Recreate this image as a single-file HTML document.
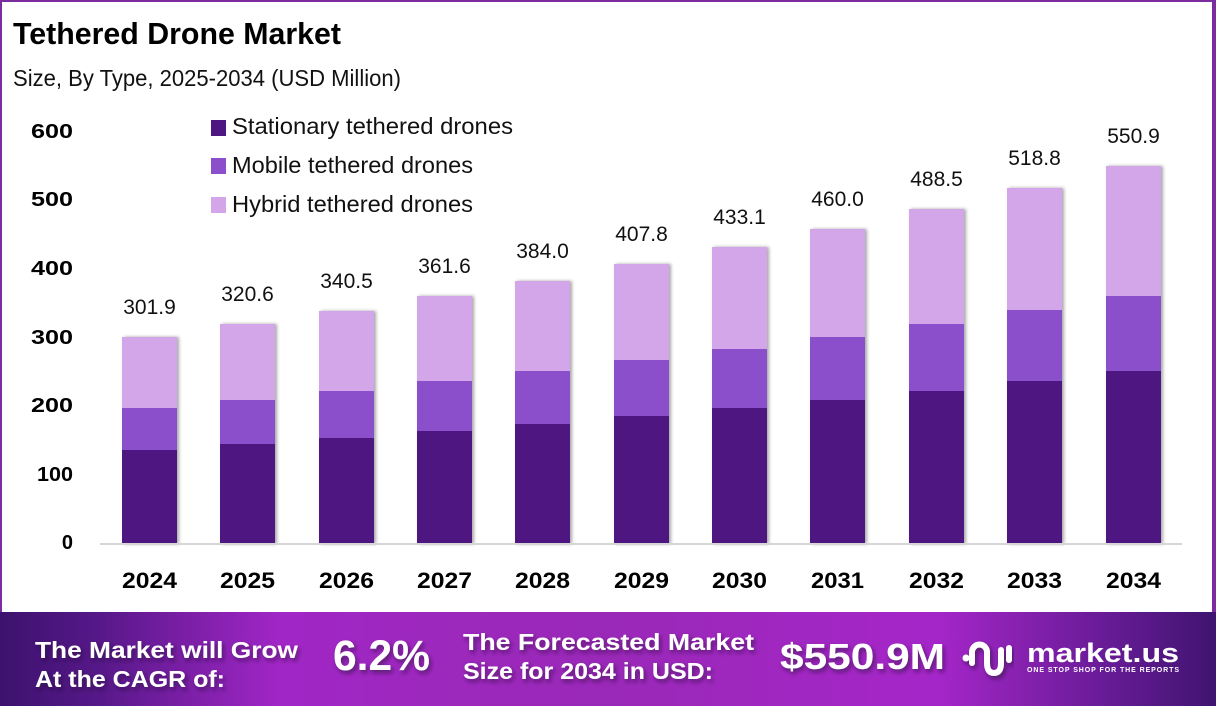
<!DOCTYPE html>
<html>
<head>
<meta charset="utf-8">
<style>
  html,body{margin:0;padding:0;background:#fff;}
  svg{display:block;}
  text{font-family:"Liberation Sans", Arial, sans-serif;}
</style>
</head>
<body>
<svg width="1216" height="706" viewBox="0 0 1216 706" xmlns="http://www.w3.org/2000/svg">
  <defs>
    <linearGradient id="fg" x1="0" y1="0" x2="1" y2="0">
      <stop offset="0" stop-color="#3c126e"/>
      <stop offset="0.08" stop-color="#561888"/>
      <stop offset="0.23" stop-color="#a126c6"/>
      <stop offset="0.38" stop-color="#9c28bc"/>
      <stop offset="0.5" stop-color="#9a28b8"/>
      <stop offset="0.77" stop-color="#a526c8"/>
      <stop offset="0.9" stop-color="#6c1c9a"/>
      <stop offset="1" stop-color="#3f1470"/>
    </linearGradient>
    <filter id="bs" x="-20%" y="-5%" width="140%" height="110%">
      <feDropShadow dx="2" dy="0" stdDeviation="1.5" flood-color="#000" flood-opacity="0.35"/>
    </filter>
    <filter id="ts" x="-10%" y="-20%" width="120%" height="160%">
      <feDropShadow dx="2" dy="3" stdDeviation="2" flood-color="#1e0733" flood-opacity="0.55"/>
    </filter>
  </defs>

  <!-- frame -->
  <rect x="0" y="0" width="1216" height="2" fill="#7b2d9f"/>
  <rect x="0" y="0" width="2" height="612" fill="#7b2d9f"/>
  <rect x="1212" y="0" width="4" height="612" fill="#7b2d9f"/>

  <!-- title -->
  <text x="13" y="44" font-size="31" font-weight="bold" fill="#000" textLength="328" lengthAdjust="spacingAndGlyphs">Tethered Drone Market</text>
  <text x="13" y="86" font-size="23" fill="#111" textLength="388" lengthAdjust="spacingAndGlyphs">Size, By Type, 2025-2034 (USD Million)</text>

  <!-- legend -->
  <rect x="211" y="120" width="15" height="16" fill="#4e1681"/>
  <rect x="211" y="158" width="15" height="16" fill="#8c4fcb"/>
  <rect x="211" y="197" width="15" height="16" fill="#d3a6ea"/>
  <text x="232" y="134" font-size="23" fill="#111" textLength="281" lengthAdjust="spacingAndGlyphs">Stationary tethered drones</text>
  <text x="232" y="173" font-size="23" fill="#111" textLength="241" lengthAdjust="spacingAndGlyphs">Mobile tethered drones</text>
  <text x="232" y="212" font-size="23" fill="#111" textLength="241" lengthAdjust="spacingAndGlyphs">Hybrid tethered drones</text>

  <!-- y axis labels -->
  <g font-size="20" font-weight="bold" fill="#000" text-anchor="end">
    <text x="73" y="138" textLength="42" lengthAdjust="spacingAndGlyphs">600</text>
    <text x="73" y="206" textLength="42" lengthAdjust="spacingAndGlyphs">500</text>
    <text x="73" y="275" textLength="42" lengthAdjust="spacingAndGlyphs">400</text>
    <text x="73" y="344" textLength="42" lengthAdjust="spacingAndGlyphs">300</text>
    <text x="73" y="412" textLength="42" lengthAdjust="spacingAndGlyphs">200</text>
    <text x="73" y="481" textLength="36" lengthAdjust="spacingAndGlyphs">100</text>
    <text x="73" y="549">0</text>
  </g>

  <!-- bars -->
  <g filter="url(#bs)">
    <!-- 2024 -->
    <rect x="122" y="337" width="55" height="71" fill="#d3a6ea"/>
    <rect x="122" y="408" width="55" height="42" fill="#8c4fcb"/>
    <rect x="122" y="450" width="55" height="94" fill="#4e1681"/>
    <!-- 2025 -->
    <rect x="220" y="324" width="55" height="76" fill="#d3a6ea"/>
    <rect x="220" y="400" width="55" height="44" fill="#8c4fcb"/>
    <rect x="220" y="444" width="55" height="100" fill="#4e1681"/>
    <!-- 2026 -->
    <rect x="319" y="311" width="55" height="80" fill="#d3a6ea"/>
    <rect x="319" y="391" width="55" height="47" fill="#8c4fcb"/>
    <rect x="319" y="438" width="55" height="106" fill="#4e1681"/>
    <!-- 2027 -->
    <rect x="417" y="296" width="55" height="85" fill="#d3a6ea"/>
    <rect x="417" y="381" width="55" height="50" fill="#8c4fcb"/>
    <rect x="417" y="431" width="55" height="113" fill="#4e1681"/>
    <!-- 2028 -->
    <rect x="515" y="281" width="55" height="90" fill="#d3a6ea"/>
    <rect x="515" y="371" width="55" height="53" fill="#8c4fcb"/>
    <rect x="515" y="424" width="55" height="120" fill="#4e1681"/>
    <!-- 2029 -->
    <rect x="614" y="264" width="55" height="96" fill="#d3a6ea"/>
    <rect x="614" y="360" width="55" height="56" fill="#8c4fcb"/>
    <rect x="614" y="416" width="55" height="128" fill="#4e1681"/>
    <!-- 2030 -->
    <rect x="712" y="247" width="55" height="102" fill="#d3a6ea"/>
    <rect x="712" y="349" width="55" height="59" fill="#8c4fcb"/>
    <rect x="712" y="408" width="55" height="136" fill="#4e1681"/>
    <!-- 2031 -->
    <rect x="810" y="229" width="55" height="108" fill="#d3a6ea"/>
    <rect x="810" y="337" width="55" height="63" fill="#8c4fcb"/>
    <rect x="810" y="400" width="55" height="144" fill="#4e1681"/>
    <!-- 2032 -->
    <rect x="909" y="209" width="55" height="115" fill="#d3a6ea"/>
    <rect x="909" y="324" width="55" height="67" fill="#8c4fcb"/>
    <rect x="909" y="391" width="55" height="153" fill="#4e1681"/>
    <!-- 2033 -->
    <rect x="1007" y="188" width="55" height="122" fill="#d3a6ea"/>
    <rect x="1007" y="310" width="55" height="71" fill="#8c4fcb"/>
    <rect x="1007" y="381" width="55" height="163" fill="#4e1681"/>
    <!-- 2034 -->
    <rect x="1106" y="166" width="55" height="130" fill="#d3a6ea"/>
    <rect x="1106" y="296" width="55" height="75" fill="#8c4fcb"/>
    <rect x="1106" y="371" width="55" height="173" fill="#4e1681"/>
  </g>

  <!-- baseline -->
  <rect x="100" y="543" width="1082" height="2" fill="#d6d6d6"/>

  <!-- value labels -->
  <g font-size="21" fill="#111" text-anchor="middle">
    <text x="149.5" y="314">301.9</text>
    <text x="247.5" y="301">320.6</text>
    <text x="346.5" y="288">340.5</text>
    <text x="444.5" y="273">361.6</text>
    <text x="542.5" y="258">384.0</text>
    <text x="641.5" y="241">407.8</text>
    <text x="739.5" y="224">433.1</text>
    <text x="837.5" y="206">460.0</text>
    <text x="936.5" y="186">488.5</text>
    <text x="1034.5" y="165">518.8</text>
    <text x="1133.5" y="143">550.9</text>
  </g>

  <!-- x labels -->
  <g font-size="22" font-weight="bold" fill="#000" text-anchor="middle">
    <text x="149.5" y="588" textLength="55" lengthAdjust="spacingAndGlyphs">2024</text>
    <text x="247.5" y="588" textLength="55" lengthAdjust="spacingAndGlyphs">2025</text>
    <text x="346.5" y="588" textLength="55" lengthAdjust="spacingAndGlyphs">2026</text>
    <text x="444.5" y="588" textLength="55" lengthAdjust="spacingAndGlyphs">2027</text>
    <text x="542.5" y="588" textLength="55" lengthAdjust="spacingAndGlyphs">2028</text>
    <text x="641.5" y="588" textLength="55" lengthAdjust="spacingAndGlyphs">2029</text>
    <text x="739.5" y="588" textLength="55" lengthAdjust="spacingAndGlyphs">2030</text>
    <text x="837.5" y="588" textLength="53" lengthAdjust="spacingAndGlyphs">2031</text>
    <text x="936.5" y="588" textLength="55" lengthAdjust="spacingAndGlyphs">2032</text>
    <text x="1034.5" y="588" textLength="55" lengthAdjust="spacingAndGlyphs">2033</text>
    <text x="1133.5" y="588" textLength="55" lengthAdjust="spacingAndGlyphs">2034</text>
  </g>

  <!-- footer -->
  <rect x="0" y="612" width="1216" height="94" fill="url(#fg)"/>
  <g fill="#fff" font-weight="bold" filter="url(#ts)">
    <text x="35" y="658" font-size="23" textLength="263" lengthAdjust="spacingAndGlyphs">The Market will Grow</text>
    <text x="35" y="687" font-size="23" textLength="190" lengthAdjust="spacingAndGlyphs">At the CAGR of:</text>
    <text x="333" y="670" font-size="43" textLength="97" lengthAdjust="spacingAndGlyphs">6.2%</text>
    <text x="463" y="650" font-size="23" textLength="291" lengthAdjust="spacingAndGlyphs">The Forecasted Market</text>
    <text x="463" y="679" font-size="23" textLength="250" lengthAdjust="spacingAndGlyphs">Size for 2034 in USD:</text>
    <text x="780" y="669" font-size="36" textLength="165" lengthAdjust="spacingAndGlyphs">$550.9M</text>
  </g>

  <!-- logo -->
  <g filter="url(#ts)">
    <circle cx="966" cy="658" r="3.5" fill="#fff"/>
    <path d="M 972 663 V 652 A 7.5 7.5 0 0 1 987 652 V 663 Q 987 673 994 673 Q 1001 673 1001 663 V 650" fill="none" stroke="#fff" stroke-width="6" stroke-linecap="round" stroke-linejoin="round"/>
    <path d="M 1009 648 V 660" fill="none" stroke="#fff" stroke-width="6" stroke-linecap="round"/>
  </g>
  <text x="1027" y="662" font-size="27" font-weight="bold" fill="#fff" textLength="152" lengthAdjust="spacingAndGlyphs">market.us</text>
  <text x="1027" y="672" font-size="7" font-weight="bold" fill="#fff" textLength="152" lengthAdjust="spacing">ONE STOP SHOP FOR THE REPORTS</text>
</svg>
</body>
</html>
